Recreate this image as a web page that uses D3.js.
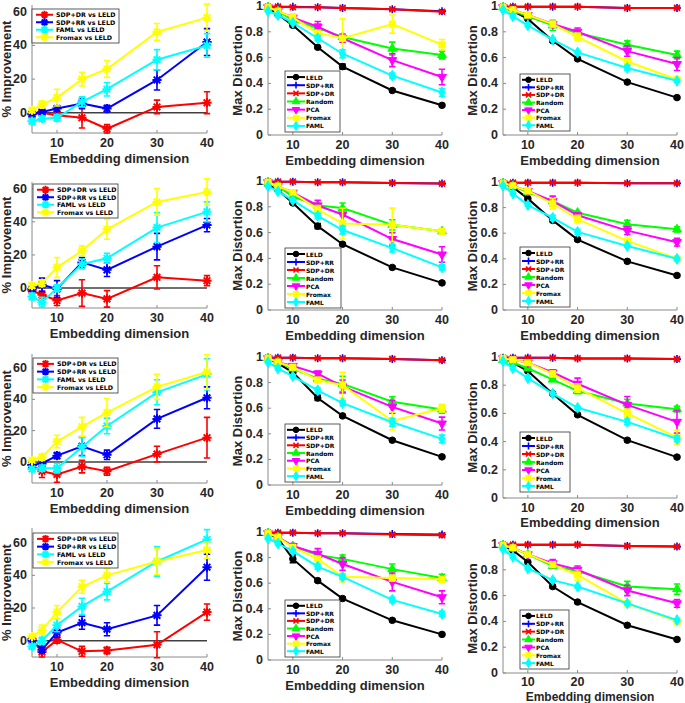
<!DOCTYPE html>
<html><head><meta charset="utf-8">
<script src="https://cdn.jsdelivr.net/npm/d3@7"></script>
<style>body{margin:0;background:#fff}svg{display:block}text{font-family:"Liberation Sans",Arial,sans-serif;font-weight:bold}</style>
</head><body>
<svg id="c" width="685" height="703"></svg>
<script>
const dims = [5, 7, 10, 15, 20, 30, 40];
const xTicks = [10, 20, 30, 40];
const impTicks = [0, 20, 40, 60];
const distTicks = [0, 0.2, 0.4, 0.6, 0.8, 1];
const impSeries = ["SDP+DR vs LELD", "SDP+RR vs LELD", "FAML vs LELD", "Fromax vs LELD"];
const impColors = ["#ff0000", "#0000ff", "#00ffff", "#ffff00"];
const distSeries = ["LELD", "SDP+RR", "SDP+DR", "Random", "PCA", "Fromax", "FAML"];
const distColors = ["#000000", "#0000ff", "#ff0000", "#00ff00", "#ff00ff", "#ffff00", "#00ffff"];
const distMarkers = ["circle", "plus", "cross", "triUp", "triDown", "square", "diamond"];

// % improvement panels (rows 1-4): SDP+DR, SDP+RR, FAML, Fromax
const imp_r1 = [[-1, 0, -1.5, -3, -9.5, 3.5, 6], [-0.5, 0.5, 2.5, 5.5, 2.5, 19.5, 42], [-5, -3.5, -3, 6.5, 14, 31.5, 40], [1.5, 5, 9, 20, 26, 48, 56.5]];
const imp_r1_err = [[1.5, 1, 1.5, 6, 2.5, 4, 6.5], [1, 1, 1.5, 3, 2, 6, 8], [1.5, 1.5, 2, 3, 4, 6, 7], [1.5, 2, 5, 4, 5, 5, 8]];
const imp_r2 = [[-1.5, -4, -7.5, -3, -6.5, 6.5, 4.5], [-0.5, 2, -0.5, 15.5, 11, 25, 38], [-5, -8.5, 0, 14.5, 18, 36.5, 46], [1.5, 3, 12.5, 22.5, 35.5, 52, 58]];
const imp_r2_err = [[1.5, 2, 3, 8, 5, 7, 3], [1.5, 4, 5, 3, 4, 8, 4], [2, 3, 2, 3, 3, 9, 6], [1.5, 2, 6, 3, 6, 8, 8]];
const imp_r3 = [[-2, -6, -8, -3, -6, 5, 15.5], [-2, -1, 4, 10, 4.5, 27.5, 41], [-4.5, -4, -4, 9.5, 23, 44.5, 56], [1, 3, 13, 22.5, 31.5, 48, 57.5]];
const imp_r3_err = [[2, 4, 5, 4, 2.5, 5, 13], [1.5, 2, 2, 6, 3, 6, 7], [1.5, 2, 3, 6, 5, 8, 10], [1, 2, 4, 6, 9, 8, 11]];
const imp_r4 = [[1, -7, 0.5, -6.5, -6, -2.5, 17.5], [0, -5.5, 5, 11, 7, 15.5, 45], [-3.5, 0, 9.5, 21, 30, 48.5, 62], [2.5, 6.5, 17.5, 33, 40, 48.5, 55.5]];
const imp_r4_err = [[1, 3, 2, 3, 2, 8, 5], [1, 2, 3, 4, 4, 6, 8], [1.5, 2, 4, 5, 5, 9, 6], [1, 3, 4, 4, 4, 8, 5]];

// Max distortion panels: LELD, SDP+RR, SDP+DR, Random, PCA, Fromax, FAML
const d_r1c2 = [[0.99, 0.935, 0.85, 0.68, 0.53, 0.345, 0.23], [0.995, 0.995, 0.995, 0.99, 0.985, 0.975, 0.96], [0.995, 0.995, 0.99, 0.99, 0.985, 0.975, 0.955], [0.99, 0.96, 0.89, 0.83, 0.76, 0.67, 0.62], [0.99, 0.96, 0.91, 0.84, 0.75, 0.58, 0.45], [0.99, 0.96, 0.91, 0.79, 0.75, 0.86, 0.70], [0.96, 0.93, 0.87, 0.75, 0.63, 0.46, 0.33]];
const d_r1c2_err = [[0.005, 0.01, 0.01, 0.01, 0.02, 0.01, 0.01], [0.003, 0.003, 0.003, 0.003, 0.005, 0.005, 0.01], [0.003, 0.003, 0.003, 0.003, 0.005, 0.005, 0.01], [0.005, 0.01, 0.01, 0.03, 0.02, 0.05, 0.03], [0.005, 0.01, 0.01, 0.04, 0.03, 0.05, 0.06], [0.005, 0.01, 0.03, 0.02, 0.15, 0.07, 0.04], [0.005, 0.01, 0.01, 0.02, 0.03, 0.02, 0.03]];
const d_r1c3 = [[0.99, 0.96, 0.90, 0.73, 0.59, 0.41, 0.29], [0.995, 0.995, 0.995, 0.995, 0.995, 0.985, 0.985], [0.995, 0.995, 0.995, 0.995, 0.995, 0.985, 0.985], [0.99, 0.96, 0.92, 0.85, 0.79, 0.70, 0.62], [0.99, 0.97, 0.93, 0.86, 0.80, 0.65, 0.55], [0.99, 0.97, 0.93, 0.86, 0.76, 0.57, 0.43], [0.97, 0.92, 0.85, 0.74, 0.64, 0.52, 0.42]];
const d_r1c3_err = [[0.005, 0.01, 0.01, 0.01, 0.01, 0.01, 0.01], [0.003, 0.003, 0.003, 0.003, 0.003, 0.005, 0.005], [0.003, 0.003, 0.003, 0.003, 0.003, 0.005, 0.005], [0.005, 0.01, 0.01, 0.04, 0.02, 0.03, 0.03], [0.005, 0.01, 0.01, 0.02, 0.03, 0.04, 0.05], [0.005, 0.01, 0.01, 0.02, 0.03, 0.02, 0.01], [0.005, 0.01, 0.01, 0.01, 0.01, 0.02, 0.01]];
const d_r2c2 = [[0.97, 0.93, 0.83, 0.65, 0.51, 0.33, 0.21], [0.995, 0.995, 0.995, 0.99, 0.99, 0.985, 0.98], [0.995, 0.995, 0.995, 0.99, 0.99, 0.985, 0.98], [0.99, 0.96, 0.88, 0.81, 0.79, 0.66, 0.61], [0.99, 0.96, 0.91, 0.81, 0.74, 0.55, 0.43], [0.99, 0.96, 0.91, 0.78, 0.67, 0.66, 0.61], [0.96, 0.92, 0.85, 0.73, 0.62, 0.48, 0.33]];
const d_r2c2_err = [[0.005, 0.01, 0.01, 0.02, 0.01, 0.01, 0.01], [0.003, 0.003, 0.003, 0.003, 0.005, 0.005, 0.005], [0.003, 0.003, 0.003, 0.003, 0.005, 0.005, 0.005], [0.005, 0.01, 0.01, 0.02, 0.04, 0.04, 0.02], [0.005, 0.01, 0.01, 0.04, 0.05, 0.05, 0.06], [0.005, 0.01, 0.02, 0.03, 0.12, 0.13, 0.02], [0.005, 0.01, 0.01, 0.02, 0.03, 0.03, 0.02]];
const d_r2c3 = [[0.99, 0.96, 0.87, 0.70, 0.55, 0.38, 0.27], [0.995, 0.995, 0.995, 0.995, 0.995, 0.99, 0.99], [0.995, 0.995, 0.995, 0.995, 0.995, 0.99, 0.99], [0.99, 0.97, 0.92, 0.85, 0.76, 0.67, 0.63], [0.99, 0.97, 0.93, 0.85, 0.74, 0.62, 0.53], [0.99, 0.97, 0.93, 0.83, 0.71, 0.54, 0.40], [0.97, 0.91, 0.82, 0.72, 0.61, 0.50, 0.40]];
const d_r2c3_err = [[0.005, 0.01, 0.01, 0.01, 0.01, 0.01, 0.01], [0.003, 0.003, 0.003, 0.003, 0.003, 0.005, 0.005], [0.003, 0.003, 0.003, 0.003, 0.003, 0.005, 0.005], [0.005, 0.01, 0.01, 0.02, 0.01, 0.03, 0.02], [0.005, 0.01, 0.01, 0.04, 0.02, 0.03, 0.03], [0.005, 0.01, 0.01, 0.04, 0.03, 0.01, 0.01], [0.005, 0.01, 0.01, 0.02, 0.02, 0.01, 0.01]];
const d_r3c2 = [[0.99, 0.95, 0.88, 0.68, 0.54, 0.35, 0.22], [0.995, 0.995, 0.995, 0.99, 0.99, 0.985, 0.975], [0.995, 0.995, 0.995, 0.99, 0.99, 0.985, 0.975], [0.99, 0.96, 0.91, 0.83, 0.79, 0.65, 0.59], [0.99, 0.96, 0.93, 0.87, 0.77, 0.61, 0.48], [0.99, 0.96, 0.92, 0.82, 0.78, 0.50, 0.60], [0.96, 0.91, 0.85, 0.74, 0.64, 0.49, 0.36]];
const d_r3c2_err = [[0.005, 0.01, 0.01, 0.02, 0.01, 0.01, 0.01], [0.003, 0.003, 0.003, 0.003, 0.005, 0.005, 0.01], [0.003, 0.003, 0.003, 0.003, 0.005, 0.005, 0.01], [0.005, 0.01, 0.01, 0.02, 0.06, 0.04, 0.03], [0.005, 0.01, 0.01, 0.02, 0.05, 0.05, 0.05], [0.005, 0.01, 0.02, 0.02, 0.10, 0.07, 0.03], [0.005, 0.01, 0.01, 0.02, 0.02, 0.03, 0.03]];
const d_r3c3 = [[0.99, 0.96, 0.90, 0.74, 0.59, 0.41, 0.29], [0.995, 0.995, 0.995, 0.995, 0.99, 0.99, 0.985], [0.995, 0.995, 0.995, 0.995, 0.99, 0.99, 0.985], [0.98, 0.96, 0.92, 0.84, 0.76, 0.67, 0.63], [0.99, 0.98, 0.96, 0.89, 0.81, 0.66, 0.54], [0.99, 0.98, 0.96, 0.88, 0.78, 0.60, 0.43], [0.97, 0.92, 0.85, 0.74, 0.64, 0.54, 0.42]];
const d_r3c3_err = [[0.005, 0.01, 0.01, 0.01, 0.01, 0.01, 0.01], [0.003, 0.003, 0.003, 0.003, 0.005, 0.005, 0.005], [0.003, 0.003, 0.003, 0.003, 0.005, 0.005, 0.005], [0.005, 0.01, 0.01, 0.01, 0.02, 0.03, 0.02], [0.005, 0.01, 0.01, 0.02, 0.04, 0.06, 0.08], [0.005, 0.01, 0.01, 0.02, 0.03, 0.03, 0.05], [0.005, 0.01, 0.01, 0.01, 0.01, 0.02, 0.02]];
const d_r4c2 = [[0.99, 0.95, 0.79, 0.62, 0.48, 0.31, 0.20], [0.995, 0.995, 0.995, 0.99, 0.99, 0.985, 0.98], [0.995, 0.995, 0.995, 0.99, 0.99, 0.98, 0.975], [0.99, 0.96, 0.89, 0.82, 0.79, 0.71, 0.64], [0.99, 0.96, 0.89, 0.83, 0.75, 0.61, 0.49], [0.99, 0.96, 0.88, 0.79, 0.65, 0.64, 0.63], [0.95, 0.91, 0.85, 0.73, 0.65, 0.47, 0.36]];
const d_r4c2_err = [[0.005, 0.01, 0.03, 0.01, 0.01, 0.01, 0.01], [0.003, 0.003, 0.003, 0.003, 0.005, 0.005, 0.01], [0.003, 0.003, 0.003, 0.003, 0.005, 0.005, 0.01], [0.005, 0.01, 0.01, 0.02, 0.03, 0.04, 0.03], [0.005, 0.01, 0.02, 0.04, 0.05, 0.07, 0.05], [0.005, 0.01, 0.02, 0.02, 0.04, 0.02, 0.02], [0.005, 0.01, 0.01, 0.02, 0.02, 0.02, 0.02]];
const d_r4c3 = [[0.99, 0.95, 0.86, 0.67, 0.55, 0.37, 0.26], [0.995, 0.995, 0.995, 0.995, 0.995, 0.985, 0.98], [0.995, 0.995, 0.995, 0.995, 0.995, 0.985, 0.98], [0.99, 0.97, 0.92, 0.83, 0.79, 0.67, 0.65], [0.99, 0.97, 0.92, 0.85, 0.80, 0.64, 0.54], [0.99, 0.97, 0.92, 0.84, 0.76, 0.54, 0.40], [0.96, 0.90, 0.81, 0.72, 0.67, 0.54, 0.41]];
const d_r4c3_err = [[0.005, 0.01, 0.01, 0.01, 0.01, 0.01, 0.01], [0.003, 0.003, 0.003, 0.003, 0.003, 0.005, 0.005], [0.003, 0.003, 0.003, 0.003, 0.003, 0.005, 0.005], [0.005, 0.01, 0.01, 0.02, 0.02, 0.04, 0.04], [0.005, 0.01, 0.01, 0.03, 0.03, 0.04, 0.03], [0.005, 0.01, 0.01, 0.02, 0.04, 0.02, 0.01], [0.005, 0.01, 0.01, 0.01, 0.01, 0.01, 0.01]];

// ---------- layout (pixel geometry) ----------
const COL = [[32, 207], [268, 442], [503, 677]];
const panels = [
  {kind: "imp", col: 0, vals: imp_r1, errs: imp_r1_err, dom: [-12, 64], y: [133, 5], leg: [32, 9, 87, 34], kOff: 10, tOff: 25, tFs: 13},
  {kind: "dist", col: 1, vals: d_r1c2, errs: d_r1c2_err, dom: [0, 1], y: [135, 6], leg: [285, 71, 55, 61], kOff: 10, tOff: 25, tFs: 13},
  {kind: "dist", col: 2, vals: d_r1c3, errs: d_r1c3_err, dom: [0, 1], y: [135, 6], leg: [520, 74, 50, 57], kOff: 10, tOff: 25, tFs: 13},
  {kind: "imp", col: 0, vals: imp_r2, errs: imp_r2_err, dom: [-12, 64], y: [308, 182], leg: [33, 184, 85, 34], kOff: 10, tOff: 25, tFs: 13},
  {kind: "dist", col: 1, vals: d_r2c2, errs: d_r2c2_err, dom: [0, 1], y: [310, 181], leg: [285, 248, 56, 60], kOff: 10, tOff: 25, tFs: 13},
  {kind: "dist", col: 2, vals: d_r2c3, errs: d_r2c3_err, dom: [0, 1], y: [310, 182], leg: [520, 247, 50, 60], kOff: 10, tOff: 25, tFs: 13},
  {kind: "imp", col: 0, vals: imp_r3, errs: imp_r3_err, dom: [-13.5, 69], y: [483, 354], leg: [33, 358, 85, 35], kOff: 10, tOff: 25, tFs: 13},
  {kind: "dist", col: 1, vals: d_r3c2, errs: d_r3c2_err, dom: [0, 1], y: [485, 357], leg: [285, 424, 55, 58], kOff: 10, tOff: 25, tFs: 13},
  {kind: "dist", col: 2, vals: d_r3c3, errs: d_r3c3_err, dom: [0, 1], y: [498, 357], leg: [520, 432, 50, 60], kOff: 10, tOff: 24, tFs: 13},
  {kind: "imp", col: 0, vals: imp_r4, errs: imp_r4_err, dom: [-10, 69], y: [657, 528], leg: [33, 533, 85, 35], kOff: 10, tOff: 25, tFs: 13},
  {kind: "dist", col: 1, vals: d_r4c2, errs: d_r4c2_err, dom: [0, 1], y: [660, 532], leg: [285, 600, 55, 57], kOff: 10, tOff: 25, tFs: 13},
  {kind: "dist", col: 2, vals: d_r4c3, errs: d_r4c3_err, dom: [0, 1], y: [673, 544], leg: [520, 610, 49, 59], kOff: 8.5, tOff: 23.5, tFs: 12}
];

const svg = d3.select("#c");
const AXC = "#8a8a8a";

function marker(g, type, x, y, color, s) {
  s = s || 1;
  if (type === "star") {
    const r = 4.6 * s, d = r * 0.72;
    g.append("path").attr("d", `M${x - r},${y}H${x + r}M${x},${y - r}V${y + r}M${x - d},${y - d}L${x + d},${y + d}M${x - d},${y + d}L${x + d},${y - d}`)
      .attr("stroke", color).attr("stroke-width", 2).attr("fill", "none");
  } else if (type === "plus") {
    const r = 4 * s;
    g.append("path").attr("d", `M${x - r},${y}H${x + r}M${x},${y - r}V${y + r}`).attr("stroke", color).attr("stroke-width", 1.6).attr("fill", "none");
  } else if (type === "cross") {
    const r = 3 * s;
    g.append("path").attr("d", `M${x - r},${y - r}L${x + r},${y + r}M${x - r},${y + r}L${x + r},${y - r}`).attr("stroke", color).attr("stroke-width", 1.6).attr("fill", "none");
  } else {
    const map = {circle: [d3.symbolCircle, 34], triUp: [d3.symbolTriangle, 34], triDown: [d3.symbolTriangle, 34], square: [d3.symbolSquare, 38], diamond: [d3.symbolDiamond, 34]};
    const [sym, size] = map[type];
    g.append("path").attr("d", d3.symbol(sym, size * s * s)())
      .attr("transform", `translate(${x},${y})` + (type === "triDown" ? " rotate(180)" : ""))
      .attr("fill", color).attr("stroke", color).attr("stroke-width", 1);
  }
}

panels.forEach(p => {
  const g = svg.append("g");
  const [xa, xb] = COL[p.col];
  const x = d3.scaleLinear().domain([5, 40]).range([xa, xb]);
  const y = d3.scaleLinear().domain(p.dom).range(p.y);
  const isImp = p.kind === "imp";
  const ticks = isImp ? impTicks : distTicks;

  // axes
  g.append("line").attr("x1", xa).attr("x2", xb).attr("y1", p.y[0]).attr("y2", p.y[0]).attr("stroke", AXC).attr("stroke-width", 1);
  g.append("line").attr("x1", xa).attr("x2", xa).attr("y1", p.y[0]).attr("y2", p.y[1]).attr("stroke", AXC).attr("stroke-width", 1);
  xTicks.forEach(t => {
    g.append("line").attr("x1", x(t)).attr("x2", x(t)).attr("y1", p.y[0]).attr("y2", p.y[0] - 3).attr("stroke", AXC);
    g.append("text").attr("x", x(t)).attr("y", p.y[0] + p.kOff).attr("text-anchor", "middle").attr("dominant-baseline", "central")
      .attr("font-size", 12.5).attr("fill", "#262626").text(t);
  });
  ticks.forEach(t => {
    g.append("line").attr("x1", xa).attr("x2", xa + 3).attr("y1", y(t)).attr("y2", y(t)).attr("stroke", AXC);
    g.append("text").attr("x", xa - 5).attr("y", y(t)).attr("text-anchor", "end").attr("dominant-baseline", "central")
      .attr("font-size", 12.5).attr("fill", "#262626").text(t);
  });
  g.append("text").attr("x", (xa + xb) / 2).attr("y", p.y[0] + p.tOff).attr("text-anchor", "middle").attr("dominant-baseline", "central")
    .attr("font-size", p.tFs).attr("fill", "#262626").text("Embedding dimension");
  const ly = (p.y[0] + p.y[1]) / 2;
  const lx = isImp ? 6 : xa - 31;
  g.append("text").attr("transform", `translate(${lx},${ly}) rotate(-90)`).attr("text-anchor", "middle").attr("dominant-baseline", "central")
    .attr("font-size", 13).attr("fill", "#262626").text(isImp ? "% Improvement" : "Max Distortion");

  if (isImp) {
    g.append("line").attr("x1", x(5)).attr("x2", x(40)).attr("y1", y(0)).attr("y2", y(0)).attr("stroke", "#404040").attr("stroke-width", 1.5);
  }

  const names = isImp ? impSeries : distSeries;
  const colors = isImp ? impColors : distColors;
  const line = d3.line().x((d, i) => x(dims[i])).y(d => y(d));
  p.vals.forEach((vals, si) => {
    const c = colors[si];
    const mk = isImp ? "star" : distMarkers[si];
    g.append("path").attr("d", line(vals)).attr("fill", "none").attr("stroke", c).attr("stroke-width", 2);
    vals.forEach((v, i) => {
      const e = p.errs[si][i];
      const cx = x(dims[i]);
      const top = y(v + e), bot = y(v - e);
      g.append("path").attr("d", `M${cx},${top}V${bot}M${cx - 3.2},${top}H${cx + 3.2}M${cx - 3.2},${bot}H${cx + 3.2}`)
        .attr("stroke", c).attr("stroke-width", 1.6).attr("fill", "none");
      marker(g, mk, cx, y(v), c, 1);
    });
  });

  // legend
  const [bx, by, bw, bh] = p.leg;
  g.append("rect").attr("x", bx).attr("y", by).attr("width", bw).attr("height", bh).attr("fill", "#fff").attr("stroke", "#333").attr("stroke-width", 0.8);
  const n = names.length;
  const step = (bh - 4) / n;
  names.forEach((nm, si) => {
    const cy = by + 2 + step * (si + 0.5);
    const c = colors[si];
    const l0 = isImp ? bx + 4 : bx + 2, l1 = isImp ? bx + 21 : (p.col === 1 ? bx + 20 : bx + 15);
    g.append("line").attr("x1", l0).attr("x2", l1).attr("y1", cy).attr("y2", cy).attr("stroke", c).attr("stroke-width", 2);
    marker(g, isImp ? "star" : distMarkers[si], (l0 + l1) / 2, cy, c, 0.85);
    g.append("text").attr("x", l1 + (isImp ? 3 : 1)).attr("y", cy).attr("dominant-baseline", "central")
      .style("font-family", "'DejaVu Sans', sans-serif")
      .attr("font-size", isImp ? 6.3 : 6).attr("fill", "#000").text(nm);
  });
});
</script>
</body></html>
